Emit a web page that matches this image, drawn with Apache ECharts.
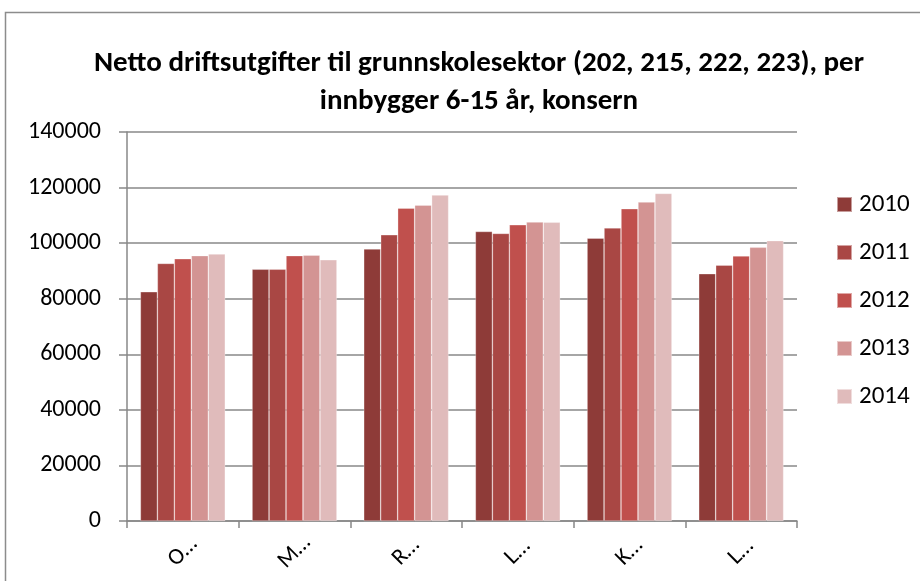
<!DOCTYPE html>
<html>
<head>
<meta charset="utf-8">
<script src="https://cdn.jsdelivr.net/npm/echarts@6/dist/echarts.min.js"></script>
<style>
  html, body { margin: 0; padding: 0; background: #fff; }
  #chartDom { width: 920px; height: 581px; }
</style>
</head>
<body>
<div id="chartDom"></div>
<script>
// kommuner (labels are truncated in the original chart)
const categories = ['O…', 'M…', 'R…', 'L…', 'K…', 'L…'];
const years = ['2010', '2011', '2012', '2013', '2014'];

const v2010 = [82500, 90600, 97900, 104200, 101800, 89000];
const v2011 = [92700, 90600, 103000, 103500, 105500, 92100];
const v2012 = [94400, 95500, 112600, 106600, 112400, 95400];
const v2013 = [95500, 95700, 113700, 107600, 114800, 98500];
const v2014 = [96100, 94000, 117300, 107500, 117900, 100900];

const yTicks = [0, 20000, 40000, 60000, 80000, 100000, 120000, 140000];

const colors = ['#8e3b38', '#a94744', '#c0504d', '#d39493', '#e0bbbb'];
const values = [v2010, v2011, v2012, v2013, v2014];
const font = "Carlito, Lato, 'Liberation Sans', sans-serif";

const chart = echarts.init(document.getElementById('chartDom'));

const option = {
  animation: false,
  color: colors,
  textStyle: { fontFamily: font },
  title: {
    text: 'Netto driftsutgifter til grunnskolesektor (202, 215, 222, 223), per\ninnbygger 6-15 år, konsern',
    left: 474,
    textAlign: 'center',
    top: 40,
    textStyle: { fontFamily: font, fontSize: 29, fontWeight: 'bold', color: '#000', lineHeight: 38 }
  },
  graphic: [{
    type: 'rect',
    shape: { x: 5.5, y: 12.5, width: 940, height: 600 },
    style: { fill: 'none', stroke: '#8c8c8c', lineWidth: 1.5 },
    silent: true
  }],
  legend: {
    orient: 'vertical',
    left: 831,
    top: 187,
    itemWidth: 15,
    itemHeight: 15,
    itemGap: 23,
    icon: 'rect',
    textStyle: { fontFamily: font, fontSize: 25, color: '#000', padding: [0, 0, 0, 2] },
    data: years
  },
  grid: { left: 127, right: 123, top: 132, bottom: 60, containLabel: false },
  xAxis: {
    type: 'category',
    data: categories,
    axisLine: { lineStyle: { color: '#888', width: 1.5 } },
    axisTick: { show: true, length: 7, lineStyle: { color: '#888', width: 1.5 } },
    axisLabel: {
      rotate: 45, margin: 31, fontSize: 23, color: '#000', fontFamily: font, interval: 0,
      align: 'center', verticalAlign: 'middle'
    }
  },
  yAxis: {
    type: 'value',
    min: yTicks[0],
    max: yTicks[yTicks.length - 1],
    interval: 20000,
    axisLine: { show: true, lineStyle: { color: '#888', width: 1.5 } },
    axisTick: { show: true, length: 8, lineStyle: { color: '#888', width: 1.5 } },
    axisLabel: { fontSize: 24, color: '#000', fontFamily: font, margin: 26, formatter: v => String(v) },
    splitLine: { lineStyle: { color: '#888', width: 1.5 } }
  },
  series: years.map((y, i) => ({
    name: y,
    type: 'bar',
    data: values[i],
    barGap: '0%',
    barCategoryGap: '24%',
    itemStyle: { color: colors[i], borderColor: 'rgba(255,255,255,0.5)', borderWidth: 0.6 }
  }))
};

chart.setOption(option);
</script>
</body>
</html>
